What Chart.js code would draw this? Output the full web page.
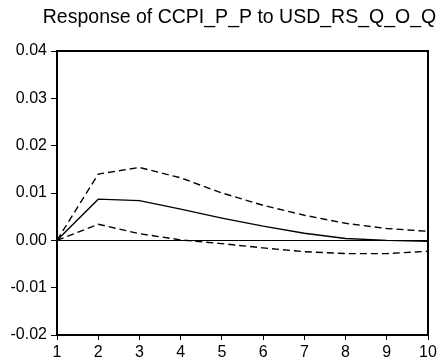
<!DOCTYPE html>
<html>
<head>
<meta charset="utf-8">
<script src="https://cdn.jsdelivr.net/npm/chart.js@4"></script>
<style>
  html, body { margin: 0; padding: 0; background: #fff; }
  #wrap { width: 443px; height: 363px; }
</style>
</head>
<body>
<div id="wrap"><canvas id="irf"></canvas></div>
<script>
// impulse response
const periods = [1, 2, 3, 4, 5, 6, 7, 8, 9, 10];
const response = [0, 0.0087, 0.0084, 0.0066, 0.0047, 0.0030, 0.0015, 0.0004, 0.0000, -0.0002];
const upperBand = [0, 0.0140, 0.0154, 0.0132, 0.0100, 0.0074, 0.0053, 0.0036, 0.0025, 0.0019];
const lowerBand = [0, 0.0034, 0.0014, 0.0001, -0.0007, -0.0016, -0.0024, -0.0028, -0.0028, -0.0023];
const yTicks = [-0.02, -0.01, 0.00, 0.01, 0.02, 0.03, 0.04];
const titleText = 'Response of CCPI_P_P to USD_RS_Q_O_Q';

const FONT = "'Liberation Sans', Arial, sans-serif";

function toPoints(vals) {
  return periods.map((p, i) => ({ x: p, y: vals[i] }));
}

// box around the plot, the zero line and the title (centred a bit right of the canvas, like the original)
const frame = {
  id: 'frame',
  beforeDatasetsDraw(chart) {
    const { ctx, chartArea: a, scales } = chart;
    const y0 = Math.round(scales.y.getPixelForValue(0)) + 0.5;
    ctx.save();
    ctx.strokeStyle = '#000';
    ctx.lineWidth = 1;
    ctx.beginPath();
    ctx.moveTo(a.left, y0);
    ctx.lineTo(a.right, y0);
    ctx.stroke();
    ctx.restore();
  },
  afterDraw(chart) {
    const { ctx, chartArea: a } = chart;
    ctx.save();
    ctx.strokeStyle = '#000';
    ctx.lineWidth = 2;
    ctx.strokeRect(a.left, a.top, a.right - a.left, a.bottom - a.top);
    ctx.fillStyle = '#000';
    ctx.font = `19.5px ${FONT}`;
    ctx.textAlign = 'center';
    ctx.textBaseline = 'middle';
    ctx.fillText(titleText, (a.left + a.right) / 2 - 3, 18);
    ctx.restore();
  }
};

const line = (label, vals, dash, width) => ({
  label,
  data: toPoints(vals),
  borderColor: '#000',
  borderWidth: width,
  borderDash: dash,
  pointRadius: 0,
  tension: 0,
  fill: false
});

new Chart(document.getElementById('irf'), {
  type: 'line',
  data: {
    datasets: [
      line('Upper', upperBand, [7, 4], 1.4),
      line('Response', response, [], 1.4),
      line('Lower', lowerBand, [7, 4], 1.4)
    ]
  },
  options: {
    responsive: true,
    maintainAspectRatio: false,
    animation: false,
    devicePixelRatio: 1,
    layout: { padding: { top: 51, right: 15, bottom: 0, left: 0 } },
    plugins: {
      legend: { display: false },
      tooltip: { enabled: false },
      title: { display: false }
    },
    scales: {
      x: {
        type: 'linear',
        min: 1,
        max: 10,
        afterFit: s => { s.height = 28; },
        ticks: { stepSize: 1, color: '#000', padding: 3, font: { family: FONT, size: 16 } },
        grid: { display: true, drawOnChartArea: false, drawTicks: true, tickLength: 5, color: '#000', lineWidth: 1 },
        border: { display: true, color: '#000', width: 2 }
      },
      y: {
        min: -0.02,
        max: 0.04,
        afterFit: s => { s.width = 57; },
        afterBuildTicks: s => { s.ticks = yTicks.map(v => ({ value: v })); },
        ticks: {
          color: '#000',
          padding: 4,
          font: { family: FONT, size: 16 },
          callback: v => v.toFixed(2)
        },
        grid: { display: true, drawOnChartArea: false, drawTicks: true, tickLength: 6, color: '#000', lineWidth: 1 },
        border: { display: true, color: '#000', width: 2 }
      }
    }
  },
  plugins: [frame]
});
</script>
</body>
</html>
